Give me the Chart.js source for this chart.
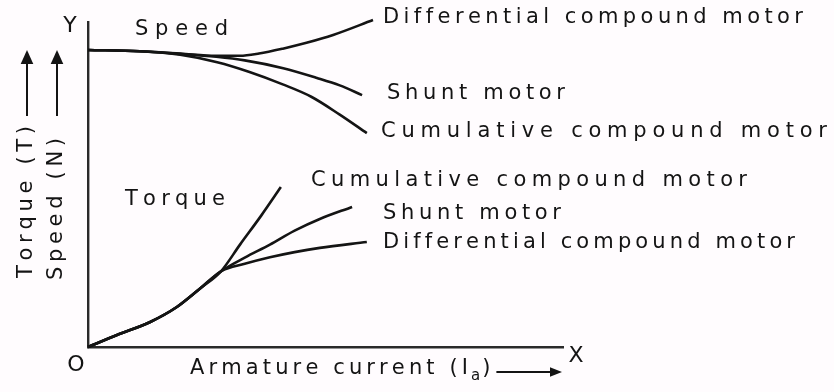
<!DOCTYPE html>
<html>
<head>
<meta charset="utf-8">
<script src="https://cdn.jsdelivr.net/npm/chart.js@4.4.1/dist/chart.umd.min.js"></script>
<style>
  html, body { margin: 0; padding: 0; background: #fffcfe; }
  #c { display: block; }
</style>
</head>
<body>
<canvas id="c" width="834" height="392"></canvas>
<script>
// ---------- DATA (arbitrary units 0..100) ----------
// Speed characteristics (N vs Ia)
const speedDiffX  = [0, 10.9, 19.4, 27, 32, 36, 41, 46, 51.6, 60];
const speedDiffY  = [91.4, 91.0, 90.3, 89.6, 89.6, 90.3, 91.8, 93.6, 96.0, 100.6];
const speedShuntX = [0, 10.9, 19.4, 27, 33, 41.1, 48.2, 53, 57.7];
const speedShuntY = [91.4, 91.0, 90.2, 89.3, 88.2, 85.8, 82.8, 80.5, 77.5];
const speedCumX   = [0, 10.9, 19.4, 27.2, 34, 41, 47, 53, 58.7];
const speedCumY   = [91.4, 91.0, 89.9, 87.6, 84.6, 80.8, 77, 71.5, 65.8];
// Torque characteristics (T vs Ia)
const torqueCumX   = [0, 6.1, 13.1, 18.7, 23.6, 28, 32, 36.5, 40.6];
const torqueCumY   = [0, 3.7, 7.7, 12.3, 18, 23.3, 31.5, 40.5, 49.2];
const torqueShuntX = [0, 6.1, 13.1, 18.7, 23.6, 28, 33, 38.3, 43.5, 48.8, 55.6];
const torqueShuntY = [0, 3.7, 7.7, 12.3, 18, 23.3, 27.5, 31.5, 35.8, 39.4, 43.1];
const torqueDiffX  = [0, 6.1, 13.1, 18.7, 23.6, 28, 33, 38.3, 43.5, 48.8, 58.7];
const torqueDiffY  = [0, 3.7, 7.7, 12.3, 18, 23.3, 25.6, 27.6, 29.2, 30.5, 32.3];

// Text labels
const curveLabels = [
  { text: "Differential compound motor", x: 383, y: 18,  w: 420 },
  { text: "Shunt motor",                 x: 387, y: 94,  w: 178 },
  { text: "Cumulative compound motor",   x: 381, y: 132, w: 446 },
  { text: "Cumulative compound motor",   x: 311, y: 181, w: 436 },
  { text: "Shunt motor",                 x: 383, y: 214, w: 178 },
  { text: "Differential compound motor", x: 383, y: 243, w: 412 }
];
const groupLabels = [
  { text: "Speed",  x: 135, y: 30,  w: 93 },
  { text: "Torque", x: 125, y: 200, w: 100 }
];
const axisLetters = [
  { text: "Y", x: 70,  y: 26 },
  { text: "O", x: 76,  y: 365 },
  { text: "X", x: 576, y: 356 }
];
const xTitle = "Armature current (I";
const xTitleSub = "a";
const yTitles = [
  { text: "Torque (T)", x: 27, yBottom: 278, len: 152 },
  { text: "Speed (N)",  x: 57, yBottom: 280, len: 142 }
];

// ---------- helpers ----------
const INK = "#141414";
const FONT = "'DejaVu Sans', 'Liberation Sans', sans-serif";
const FS = 21;
function pts(xs, ys) { return xs.map((x, i) => ({ x: x, y: ys[i] })); }
function spaced(ctx, text, x, y, w) {
  const widths = [...text].map(ch => ctx.measureText(ch).width);
  const nat = widths.reduce((a, b) => a + b, 0);
  const extra = text.length > 1 ? (w - nat) / (text.length - 1) : 0;
  let cx = x;
  [...text].forEach((ch, i) => { ctx.fillText(ch, cx, y); cx += widths[i] + extra; });
  return cx - extra;
}
function arrowHead(ctx, x, y, dir, size) {
  ctx.beginPath();
  if (dir === "up") { ctx.moveTo(x, y); ctx.lineTo(x - size * 0.45, y + size); ctx.lineTo(x + size * 0.45, y + size); }
  else { ctx.moveTo(x, y); ctx.lineTo(x - size, y - size * 0.4); ctx.lineTo(x - size, y + size * 0.4); }
  ctx.closePath(); ctx.fill();
}

const decor = {
  id: "decor",
  beforeDraw(chart) {
    const ctx = chart.ctx;
    ctx.save(); ctx.fillStyle = "#fffcfe"; ctx.fillRect(0, 0, chart.width, chart.height); ctx.restore();
  },
  afterDraw(chart) {
    const ctx = chart.ctx;
    ctx.save();
    ctx.fillStyle = INK; ctx.strokeStyle = INK;
    ctx.textBaseline = "middle"; ctx.textAlign = "left";
    ctx.font = FS + "px " + FONT;
    curveLabels.forEach(l => spaced(ctx, l.text, l.x, l.y, l.w));
    groupLabels.forEach(l => spaced(ctx, l.text, l.x, l.y, l.w));
    ctx.textAlign = "center";
    ctx.font = "22px " + FONT;
    axisLetters.forEach(l => ctx.fillText(l.text, l.x, l.y));
    // x-axis title with subscript and arrow
    ctx.textAlign = "left";
    ctx.font = FS + "px " + FONT;
    let ex = spaced(ctx, xTitle, 190, 369, 278);
    ctx.font = "15px " + FONT;
    ctx.fillText(xTitleSub, ex + 3, 376);
    ex += 3 + ctx.measureText(xTitleSub).width + 2;
    ctx.font = FS + "px " + FONT;
    ctx.fillText(")", ex, 369);
    ex += ctx.measureText(")").width + 6;
    ctx.lineWidth = 2;
    ctx.beginPath(); ctx.moveTo(ex, 372); ctx.lineTo(552, 372); ctx.stroke();
    arrowHead(ctx, 562, 372, "right", 12);
    // rotated y titles with upward arrows
    yTitles.forEach(t => {
      ctx.save();
      ctx.translate(t.x, t.yBottom);
      ctx.rotate(-Math.PI / 2);
      ctx.textAlign = "left";
      ctx.font = FS + "px " + FONT;
      spaced(ctx, t.text, 0, 0, t.len);
      ctx.restore();
      ctx.lineWidth = 2;
      ctx.beginPath(); ctx.moveTo(t.x, 116); ctx.lineTo(t.x, 62); ctx.stroke();
      arrowHead(ctx, t.x, 50, "up", 14);
    });
    ctx.restore();
  }
};

const lineStyle = {
  showLine: true, pointRadius: 0, borderColor: INK, borderWidth: 2.6,
  cubicInterpolationMode: "monotone", fill: false, clip: false
};

new Chart(document.getElementById("c"), {
  type: "scatter",
  data: {
    datasets: [
      Object.assign({ label: "Speed – Differential compound motor", data: pts(speedDiffX, speedDiffY) }, lineStyle),
      Object.assign({ label: "Speed – Shunt motor", data: pts(speedShuntX, speedShuntY) }, lineStyle),
      Object.assign({ label: "Speed – Cumulative compound motor", data: pts(speedCumX, speedCumY) }, lineStyle),
      Object.assign({ label: "Torque – Cumulative compound motor", data: pts(torqueCumX, torqueCumY) }, lineStyle),
      Object.assign({ label: "Torque – Shunt motor", data: pts(torqueShuntX, torqueShuntY) }, lineStyle),
      Object.assign({ label: "Torque – Differential compound motor", data: pts(torqueDiffX, torqueDiffY) }, lineStyle)
    ]
  },
  options: {
    responsive: false,
    animation: false,
    events: [],
    layout: { padding: { left: 88, top: 22, right: 834 - 563, bottom: 392 - 347 } },
    plugins: { legend: { display: false }, tooltip: { enabled: false } },
    scales: {
      x: {
        type: "linear", min: 0, max: 100,
        grid: { display: false, drawTicks: false },
        ticks: { display: false },
        border: { display: true, color: "#2a2a2a", width: 2.4 },
        afterFit: s => { s.height = 0; }
      },
      y: {
        type: "linear", min: 0, max: 100,
        grid: { display: false, drawTicks: false },
        ticks: { display: false },
        border: { display: true, color: "#2a2a2a", width: 2.4 },
        afterFit: s => { s.width = 0; }
      }
    }
  },
  plugins: [decor]
});
</script>
</body>
</html>
